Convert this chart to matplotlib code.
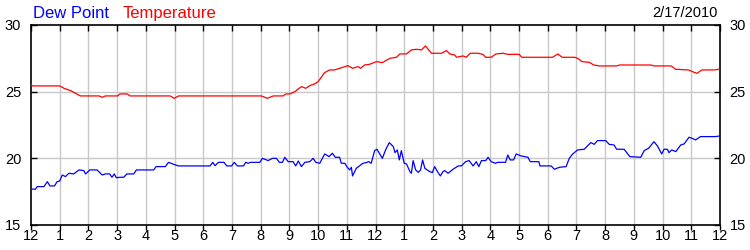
import matplotlib
matplotlib.use("Agg")
import matplotlib.pyplot as plt

plt.rcParams['font.family'] = ['Liberation Sans', 'DejaVu Sans']

# hours since midnight (0-24) and readings
temp_hours = [0.0, 0.05, 1.0, 1.15, 1.38, 1.72, 2.37, 2.48, 2.59, 3.02, 3.1, 3.35, 3.44,
              4.85, 4.99, 5.14, 8.03, 8.23, 8.44, 8.78, 8.88, 9.02, 9.19, 9.42, 9.57,
              9.71, 9.88, 10.0, 10.23, 10.4, 10.57, 10.75, 11.04, 11.2, 11.39, 11.48,
              11.62, 11.79, 12.03, 12.24, 12.5, 12.73, 12.85, 13.08, 13.25, 13.43,
              13.6, 13.74, 13.95, 14.3, 14.47, 14.59, 14.76, 14.82, 15.05, 15.16,
              15.3, 15.57, 15.74, 15.84, 16.03, 16.2, 16.44, 16.61, 17.0, 17.1, 18.17,
              18.35, 18.5, 18.93, 19.04, 19.2, 19.45, 19.6, 19.8, 20.4, 20.5, 21.6,
              21.7, 22.3, 22.45, 22.9, 23.1, 23.2, 23.37, 23.8, 24.0]
temp_vals = [25.55, 25.43, 25.43, 25.25, 25.08, 24.68, 24.68, 24.58, 24.68, 24.68, 24.83,
             24.83, 24.68, 24.68, 24.5, 24.68, 24.68, 24.5, 24.68, 24.68, 24.83, 24.83,
             25.0, 25.38, 25.25, 25.45, 25.58, 25.75, 26.43, 26.63, 26.63, 26.75, 26.95,
             26.75, 26.88, 26.75, 27.0, 27.05, 27.25, 27.18, 27.5, 27.58, 27.83, 27.83,
             28.13, 28.18, 28.13, 28.43, 27.88, 27.88, 28.08, 27.83, 27.75, 27.58, 27.68,
             27.58, 27.88, 27.88, 27.8, 27.58, 27.58, 27.83, 27.88, 27.8, 27.8, 27.58,
             27.58, 27.83, 27.58, 27.58, 27.5, 27.25, 27.2, 27.0, 26.93, 26.93, 27.0,
             27.0, 26.93, 26.93, 26.68, 26.63, 26.45, 26.38, 26.63, 26.63, 26.7]

dew_hours = [0.0, 0.15, 0.22, 0.45, 0.57, 0.66, 0.82, 0.91, 1.0, 1.09, 1.2, 1.32, 1.49,
             1.67, 1.84, 1.9, 2.05, 2.3, 2.48, 2.59, 2.74, 2.82, 2.9, 2.97, 3.11, 3.23,
             3.34, 3.58, 3.67, 4.27, 4.36, 4.68, 4.79, 4.97, 5.14, 6.24, 6.33, 6.41,
             6.53, 6.72, 6.82, 6.99, 7.08, 7.19, 7.4, 7.48, 7.57, 7.65, 7.97, 8.06,
             8.26, 8.41, 8.55, 8.65, 8.76, 8.84, 8.96, 9.13, 9.22, 9.31, 9.42, 9.54,
             9.71, 9.83, 9.92, 10.06, 10.23, 10.38, 10.5, 10.6, 10.75, 10.81, 10.93,
             11.0, 11.1, 11.16, 11.2, 11.33, 11.56, 11.68, 11.77, 11.85, 11.97, 12.05,
             12.24, 12.35, 12.48, 12.62, 12.68, 12.76, 12.83, 12.9, 13.0, 13.08, 13.2,
             13.25, 13.31, 13.4, 13.49, 13.57, 13.64, 13.72, 13.89, 13.98, 14.06,
             14.18, 14.26, 14.35, 14.41, 14.53, 14.7, 14.88, 14.99, 15.14, 15.26,
             15.4, 15.51, 15.6, 15.69, 15.84, 15.92, 16.03, 16.18, 16.26, 16.53,
             16.61, 16.69, 16.81, 16.9, 17.07, 17.31, 17.39, 17.69, 17.73, 18.12,
             18.23, 18.41, 18.64, 18.75, 18.87, 19.04, 19.27, 19.5, 19.62, 19.73,
             20.02, 20.14, 20.31, 20.4, 20.66, 20.86, 21.24, 21.36, 21.51, 21.7,
             21.82, 21.97, 22.05, 22.17, 22.22, 22.32, 22.46, 22.63, 22.75, 22.92,
             23.03, 23.15, 23.32, 23.84, 24.0]
dew_vals = [17.7, 17.68, 17.88, 17.88, 18.25, 17.93, 17.93, 18.25, 18.3, 18.75, 18.63,
            18.88, 18.83, 19.13, 19.08, 18.83, 19.13, 19.13, 18.75, 18.83, 18.83, 18.58,
            18.83, 18.55, 18.58, 18.58, 18.83, 18.83, 19.13, 19.13, 19.38, 19.38, 19.7,
            19.55, 19.43, 19.43, 19.7, 19.45, 19.7, 19.7, 19.43, 19.43, 19.7, 19.43,
            19.43, 19.7, 19.63, 19.7, 19.7, 20.0, 19.83, 20.0, 20.0, 19.7, 19.7, 20.08,
            19.75, 19.75, 19.43, 19.8, 19.38, 19.7, 19.75, 20.0, 19.7, 19.63, 20.33,
            20.13, 20.38, 20.08, 20.08, 19.63, 19.63, 19.38, 19.13, 19.33, 18.68, 19.25,
            19.63, 19.68, 19.75, 19.63, 20.58, 20.68, 20.0, 20.63, 21.18, 20.88, 20.43,
            20.63, 19.88, 20.58, 19.63, 19.58, 19.0, 18.88, 19.83, 19.13, 18.95, 19.13,
            19.88, 19.25, 19.0, 18.93, 19.38, 18.93, 18.68, 19.0, 19.08, 18.88, 19.18,
            19.43, 19.43, 19.75, 19.83, 19.43, 19.75, 19.38, 19.83, 19.83, 20.08,
            19.75, 19.63, 19.7, 19.7, 20.25, 19.88, 19.88, 20.33, 20.18, 20.08, 19.75,
            19.75, 19.43, 19.43, 19.18, 19.33, 19.38, 20.0, 20.33, 20.63, 20.68, 21.18,
            21.05, 21.33, 21.33, 21.05, 21.0, 20.68, 20.68, 20.13, 20.08, 20.58, 20.75,
            21.25, 20.93, 20.33, 20.68, 20.68, 20.43, 20.63, 20.5, 21.0, 21.08, 21.58,
            21.5, 21.38, 21.63, 21.63, 21.68]

hour_ticks = list(range(25))
hour_labels = ['12', '1', '2', '3', '4', '5', '6', '7', '8', '9', '10', '11',
               '12', '1', '2', '3', '4', '5', '6', '7', '8', '9', '10', '11', '12']
y_ticks = [15, 20, 25, 30]

fig = plt.figure(figsize=(7.5, 2.5), dpi=100)
ax = fig.add_axes([31 / 750, 25 / 250, 689 / 750, 200 / 250])

grid_c = '#c8c8c8'
for h in hour_ticks[1:-1]:
    ax.axvline(h, color=grid_c, lw=1.0, zorder=1)
for v in y_ticks[1:-1]:
    ax.axhline(v, color=grid_c, lw=1.0, zorder=1)

ax.plot(temp_hours, temp_vals, color='#ff0000', lw=0.9, zorder=3)
ax.plot(dew_hours, dew_vals, color='#0000ff', lw=0.9, zorder=3)

ax.set_xlim(0, 24)
ax.set_ylim(15, 30)
ax.set_xticks(hour_ticks)
ax.set_xticklabels(hour_labels)
ax.set_yticks(y_ticks)
ax.set_yticklabels([str(v) for v in y_ticks])

ax.tick_params(axis='x', which='both', bottom=True, top=True, direction='out',
               length=3.5, width=1, labelsize=10.5, pad=3, colors='black')
ax.tick_params(axis='x', top=True, direction='in')
ax.tick_params(axis='y', left=True, right=True, labelleft=True, labelright=True,
               direction='in', length=4, width=1, labelsize=10.5, pad=7, colors='black')
# top ticks point inward, bottom ones outward
for t in ax.xaxis.get_major_ticks():
    t.tick2line.set_marker(3)
    t.tick2line.set_markersize(4)
    t.tick1line.set_marker(3)
    t.tick1line.set_markersize(3.5)

for sp in ax.spines.values():
    sp.set_linewidth(1.2)
    sp.set_color('black')

fig.text(33 / 750, 1 - 18 / 250, 'Dew Point', color='#0000ff', fontsize=12, va='baseline')
fig.text(123 / 750, 1 - 18 / 250, 'Temperature', color='#ff0000', fontsize=12, va='baseline')
fig.text(718 / 750, 1 - 17 / 250, '2/17/2010', color='black', fontsize=10.5,
         ha='right', va='baseline')

fig.savefig('out.png', dpi=100)
